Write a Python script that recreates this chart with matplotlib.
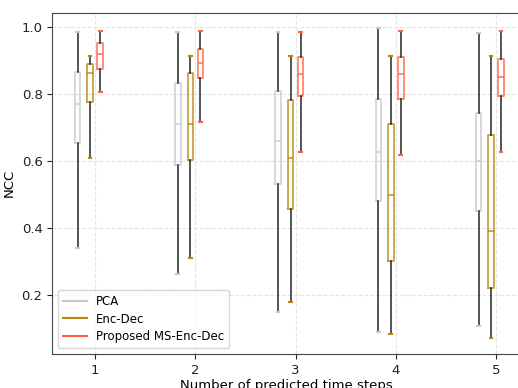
import numpy as np
import matplotlib
matplotlib.use("Agg")
import matplotlib.pyplot as plt
from matplotlib.lines import Line2D

# NCC box statistics (whislo, q1, med, q3, whishi)
STEPS = [1, 2, 3, 4, 5]
METHODS = ["PCA", "Enc-Dec", "Proposed MS-Enc-Dec"]

pca_lo = [0.340, 0.262, 0.148, 0.089, 0.107]
pca_q1 = [0.652, 0.587, 0.530, 0.479, 0.450]
pca_med = [0.769, 0.709, 0.658, 0.626, 0.598]
pca_q3 = [0.864, 0.833, 0.807, 0.783, 0.743]
pca_hi = [0.985, 0.985, 0.985, 0.998, 0.983]

enc_lo = [0.607, 0.310, 0.179, 0.083, 0.070]
enc_q1 = [0.775, 0.602, 0.455, 0.301, 0.219]
enc_med = [0.863, 0.710, 0.608, 0.497, 0.389]
enc_q3 = [0.888, 0.863, 0.780, 0.710, 0.676]
enc_hi = [0.913, 0.913, 0.913, 0.913, 0.913]

ms_lo = [0.806, 0.717, 0.627, 0.616, 0.627]
ms_q1 = [0.874, 0.846, 0.792, 0.785, 0.792]
ms_med = [0.920, 0.893, 0.859, 0.859, 0.851]
ms_q3 = [0.952, 0.935, 0.909, 0.910, 0.904]
ms_hi = [0.988, 0.987, 0.986, 0.989, 0.989]

COLORS = ["#c8c8c8", "#b8860b", "#ff6347"]
OFFSETS = [-0.175, -0.05, 0.05]


def make_stats(lo, q1, med, q3, hi):
    return [{"whislo": a, "q1": b, "med": c, "q3": d, "whishi": e, "fliers": []}
            for a, b, c, d, e in zip(lo, q1, med, q3, hi)]


all_stats = [
    make_stats(pca_lo, pca_q1, pca_med, pca_q3, pca_hi),
    make_stats(enc_lo, enc_q1, enc_med, enc_q3, enc_hi),
    make_stats(ms_lo, ms_q1, ms_med, ms_q3, ms_hi),
]

fig = plt.figure(figsize=(5.18, 3.88), dpi=100)
ax = fig.add_axes([0.101, 0.088, 0.905, 0.879])

for stats, col, off in zip(all_stats, COLORS, OFFSETS):
    pos = np.array(STEPS) + off
    ax.bxp(stats, positions=pos, widths=0.055, showfliers=False,
           boxprops=dict(color=col, lw=1.2, alpha=0.85),
           medianprops=dict(color=col, lw=1.2, alpha=0.85),
           whiskerprops=dict(color="black", lw=1.1, alpha=0.85),
           capprops=dict(color=col, lw=1.5), manage_ticks=False)

ax.set_xlim(0.573, 5.25)
ax.set_ylim(0.023, 1.042)
ax.set_xticks(STEPS)
ax.set_yticks([0.2, 0.4, 0.6, 0.8, 1.0])
ax.grid(True, ls="--", color="#e4e4e4", lw=0.8)
ax.set_axisbelow(True)
for s in ax.spines.values():
    s.set_color("#444444")
ax.tick_params(colors="#222222", labelsize=9.5)
ax.set_xlabel("Number of predicted time steps", fontsize=9.5, labelpad=2)
ax.set_ylabel("NCC", fontsize=9.5)

handles = [Line2D([0], [0], color=c, lw=1.5) for c in COLORS]
ax.legend(handles, METHODS, loc="lower left", fontsize=8.5, framealpha=0.8,
          labelspacing=0.4, borderpad=0.4)

fig.savefig("out.png", dpi=100)
